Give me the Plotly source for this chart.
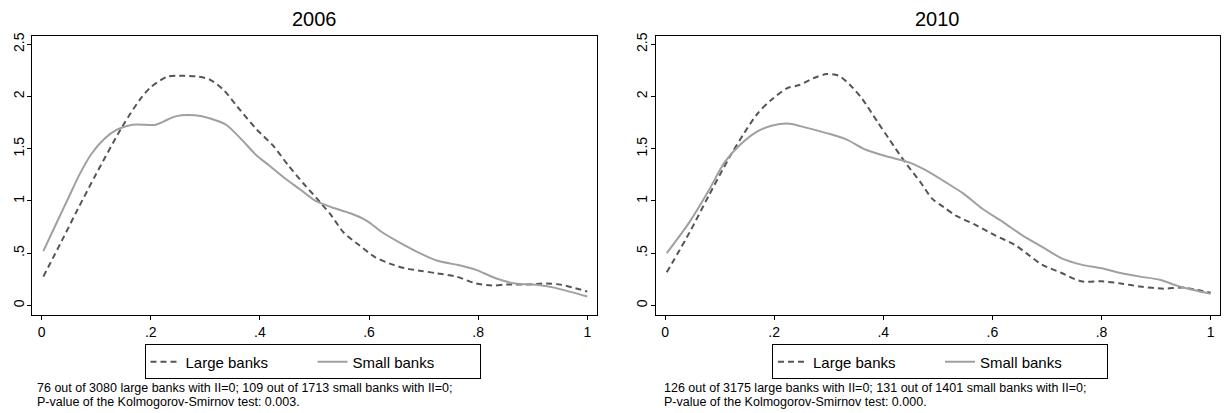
import plotly.graph_objects as go

# Kernel density estimates of the II ratio, by bank size and year
x_large_2006 = [0.003, 0.037, 0.066, 0.10, 0.148, 0.18, 0.20, 0.23, 0.252, 0.288, 0.309, 0.334,
                0.359, 0.395, 0.424, 0.452, 0.481, 0.51, 0.531, 0.553, 0.581, 0.61, 0.638, 0.667,
                0.696, 0.724, 0.76, 0.796, 0.825, 0.853, 0.889, 0.925, 0.953, 1.0]
y_large_2006 = [0.275, 0.62, 0.92, 1.26, 1.715, 1.97, 2.09, 2.19, 2.20, 2.19, 2.16, 2.06,
                1.90, 1.68, 1.53, 1.34, 1.16, 0.99, 0.86, 0.70, 0.58, 0.465, 0.40, 0.354,
                0.33, 0.307, 0.275, 0.21, 0.19, 0.20, 0.20, 0.21, 0.196, 0.133]

x_small_2006 = [0.003, 0.03, 0.05, 0.069, 0.091, 0.116, 0.137, 0.166, 0.209, 0.223, 0.245, 0.281,
                0.309, 0.338, 0.366, 0.395, 0.417, 0.445, 0.474, 0.502, 0.531, 0.567, 0.596,
                0.624, 0.653, 0.689, 0.724, 0.76, 0.796, 0.832, 0.868, 0.91, 0.939, 1.0]
y_small_2006 = [0.52, 0.82, 1.04, 1.25, 1.45, 1.60, 1.68, 1.73, 1.73, 1.76, 1.81, 1.82,
                1.79, 1.73, 1.59, 1.43, 1.34, 1.22, 1.11, 1.00, 0.94, 0.88, 0.81,
                0.70, 0.61, 0.51, 0.43, 0.39, 0.34, 0.26, 0.21, 0.196, 0.17, 0.085]

x_large_2010 = [0.003, 0.045, 0.08, 0.116, 0.145, 0.17, 0.195, 0.224, 0.246, 0.274, 0.296, 0.318,
                0.339, 0.361, 0.389, 0.411, 0.44, 0.468, 0.49, 0.511, 0.533, 0.569, 0.605,
                0.641, 0.662, 0.691, 0.727, 0.763, 0.80, 0.835, 0.871, 0.914, 0.95, 1.0]
y_large_2010 = [0.316, 0.70, 1.05, 1.40, 1.65, 1.84, 1.97, 2.08, 2.11, 2.18, 2.215, 2.20,
                2.11, 1.98, 1.76, 1.59, 1.37, 1.18, 1.02, 0.94, 0.86, 0.77, 0.67,
                0.58, 0.50, 0.39, 0.31, 0.23, 0.23, 0.21, 0.18, 0.16, 0.17, 0.12]

x_small_2010 = [0.003, 0.045, 0.08, 0.109, 0.138, 0.167, 0.195, 0.228, 0.26, 0.296, 0.332, 0.368,
                0.404, 0.447, 0.476, 0.511, 0.547, 0.583, 0.619, 0.655, 0.691, 0.727, 0.763,
                0.80, 0.835, 0.871, 0.907, 0.943, 1.0]
y_small_2010 = [0.50, 0.80, 1.10, 1.37, 1.54, 1.66, 1.72, 1.74, 1.70, 1.65, 1.59, 1.49,
                1.43, 1.37, 1.30, 1.19, 1.07, 0.92, 0.80, 0.67, 0.56, 0.45, 0.39,
                0.355, 0.31, 0.275, 0.245, 0.18, 0.11]

years = ["2006", "2010"]
series_names = ["Large banks", "Small banks"]
x_tickvals = [0, 0.2, 0.4, 0.6, 0.8, 1]
x_ticktext = ["0", ".2", ".4", ".6", ".8", "1"]
y_tickvals = [0, 0.5, 1, 1.5, 2, 2.5]
y_ticktext = ["0", ".5", "1", "1.5", "2", "2.5"]
notes = [
    ["76 out of 3080 large banks with II=0; 109 out of 1713 small banks with II=0;",
     "P-value of the Kolmogorov-Smirnov test: 0.003."],
    ["126 out of 3175 large banks with II=0; 131 out of 1401 small banks with II=0;",
     "P-value of the Kolmogorov-Smirnov test: 0.000."],
]

W, H = 1225, 413
FONT = "Liberation Sans, Arial, Helvetica, sans-serif"
DARK = "#555555"
LIGHT = "#a0a0a0"


def px_x(p):
    return p / W


def px_y(p):
    return 1 - p / H


# plot frames in pixels: (left, right), shared top/bottom
frames = [(32.3, 596.7), (655.7, 1220.0)]
top, bottom = 32.3, 314.0

fig = go.Figure()

panels = [
    (x_large_2006, y_large_2006, x_small_2006, y_small_2006),
    (x_large_2010, y_large_2010, x_small_2010, y_small_2010),
]

for i, (xl, yl, xs, ys) in enumerate(panels):
    xa = "x" if i == 0 else "x2"
    ya = "y" if i == 0 else "y2"
    leg = "legend" if i == 0 else "legend2"
    fig.add_trace(go.Scatter(
        x=xl, y=yl, mode="lines", name=series_names[0], xaxis=xa, yaxis=ya, legend=leg,
        line=dict(color=DARK, width=2, dash="6px,4px", shape="spline", smoothing=0.8),
    ))
    fig.add_trace(go.Scatter(
        x=xs, y=ys, mode="lines", name=series_names[1], xaxis=xa, yaxis=ya, legend=leg,
        line=dict(color=LIGHT, width=2, shape="spline", smoothing=0.8),
    ))

axis_common = dict(
    showgrid=False, zeroline=False, showline=True, mirror=True,
    linecolor="black", linewidth=1, ticks="outside", ticklen=4, tickcolor="black",
    tickfont=dict(family=FONT, size=14, color="black"),
)

layout = dict(
    width=W, height=H,
    margin=dict(l=0, r=0, t=0, b=0),
    paper_bgcolor="white", plot_bgcolor="white",
    font=dict(family=FONT, color="black"),
    showlegend=True,
)

for i, (l, r) in enumerate(frames):
    sx = "" if i == 0 else "2"
    layout["xaxis" + sx] = dict(
        axis_common, domain=[px_x(l), px_x(r)], range=[-0.0172, 1.0172],
        tickvals=x_tickvals, ticktext=x_ticktext,
        anchor="y" + sx,
    )
    layout["yaxis" + sx] = dict(
        axis_common, domain=[px_y(bottom), px_y(top)], range=[-0.092, 2.58],
        tickvals=y_tickvals, ticktext=y_ticktext, tickangle=-90,
        ticklabelstandoff=-2,
        anchor="x" + sx,
    )

legend_common = dict(
    orientation="h", xanchor="center", yanchor="middle",
    bordercolor="black", borderwidth=1, bgcolor="white",
    font=dict(family=FONT, size=15, color="black"),
    entrywidth=122, entrywidthmode="pixels",
    itemclick=False, itemdoubleclick=False,
)
layout["legend"] = dict(legend_common, x=px_x(312.5), y=px_y(361.5))
layout["legend2"] = dict(legend_common, x=px_x(940), y=px_y(361.5))

annotations = []
for i, (l, r) in enumerate(frames):
    annotations.append(dict(
        text=years[i], xref="paper", yref="paper",
        x=px_x((l + r) / 2), y=px_y(15.5), xanchor="center", yanchor="middle",
        showarrow=False, font=dict(family=FONT, size=20, color="black"),
    ))
    note_x = 35 if i == 0 else 662
    for j, line in enumerate(notes[i]):
        annotations.append(dict(
            text=line, xref="paper", yref="paper",
            x=px_x(note_x), y=px_y(388 + 13.5 * j), xanchor="left", yanchor="middle",
            showarrow=False, font=dict(family=FONT, size=12.5, color="black"),
        ))
layout["annotations"] = annotations

fig.update_layout(**layout)
fig.write_html("out.html")
